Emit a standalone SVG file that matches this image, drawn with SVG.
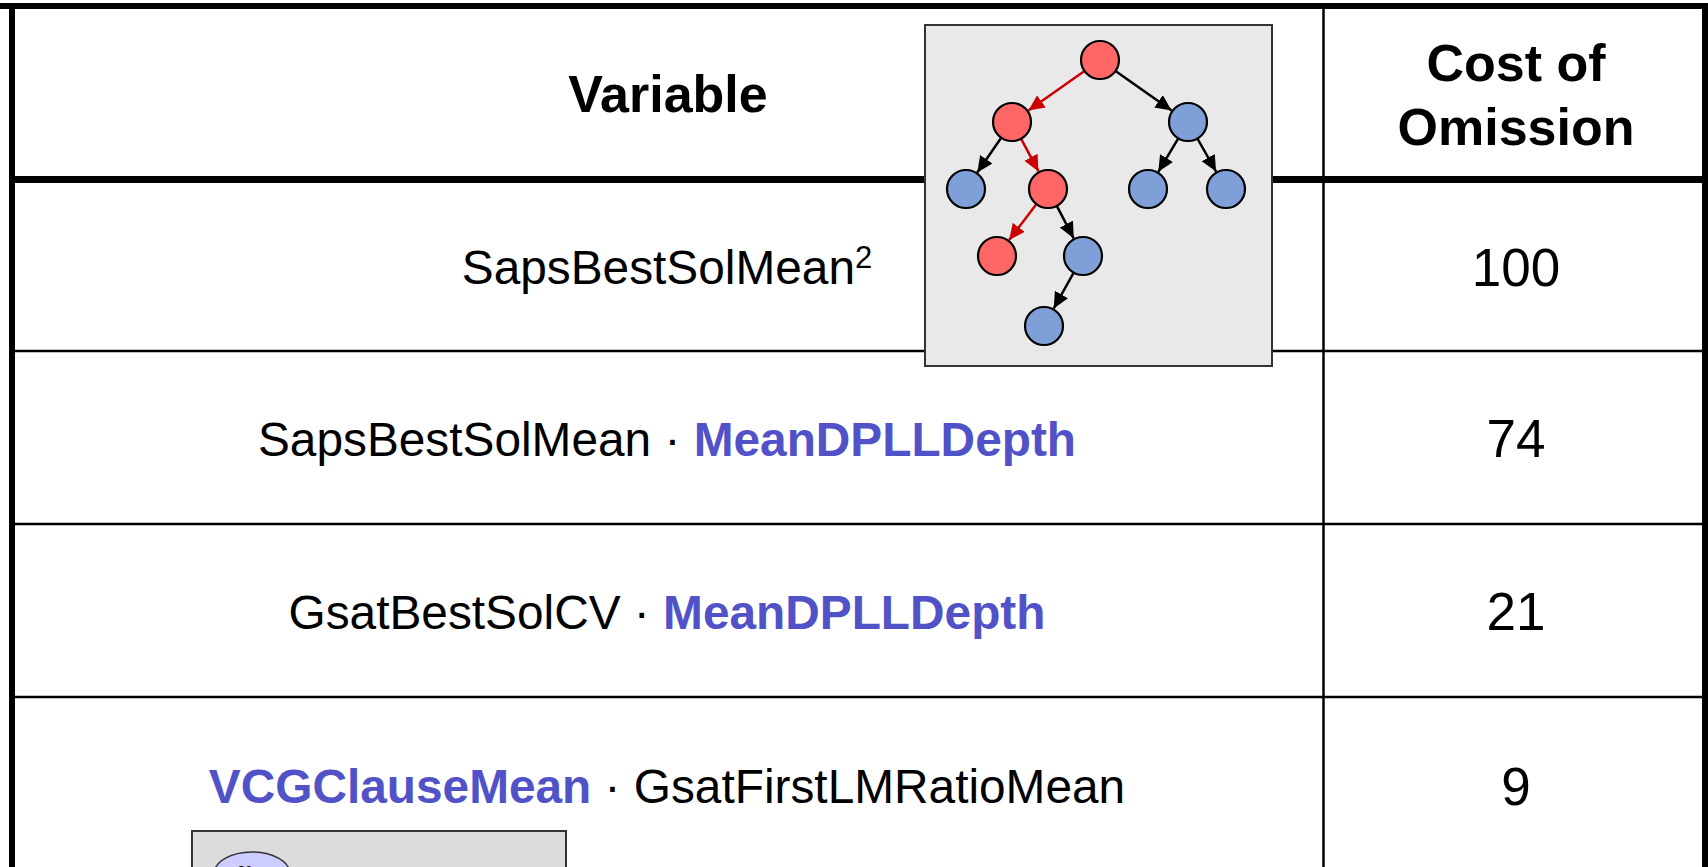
<svg xmlns="http://www.w3.org/2000/svg" width="1708" height="867" viewBox="0 0 1708 867">
<style>
.t{font-family:"Liberation Sans",Arial,sans-serif;fill:#000}
.row{font-size:47.8px;text-anchor:middle}
.num{font-size:53px;text-anchor:middle}
.hdr{font-size:52px;font-weight:bold;text-anchor:middle}
.blue{fill:#5252c8;font-weight:bold}
.grid{stroke:#000;fill:none}
.red{fill:#ff6666;stroke:#000;stroke-width:2.2}
.blu{fill:#7f9fd8;stroke:#000;stroke-width:2.2}
.eb{stroke:#000;stroke-width:2.5;fill:none;marker-end:url(#ab)}
.er{stroke:#cc0000;stroke-width:2.5;fill:none;marker-end:url(#ar)}
</style>
<defs>
<marker id="ab" markerUnits="userSpaceOnUse" markerWidth="20" markerHeight="18" refX="16" refY="7.5" orient="auto"><path d="M0,0 L16,7.5 L0,15 z" fill="#000"/></marker>
<marker id="ar" markerUnits="userSpaceOnUse" markerWidth="20" markerHeight="18" refX="16" refY="7.5" orient="auto"><path d="M0,0 L16,7.5 L0,15 z" fill="#cc0000"/></marker>
</defs>
<rect width="1708" height="867" fill="#fff"/>
<g id="table">
<line class="grid" x1="0" y1="6" x2="1708" y2="6" stroke-width="6"/>
<line class="grid" x1="12" y1="3" x2="12" y2="867" stroke-width="6"/>
<line class="grid" x1="1705" y1="3" x2="1705" y2="867" stroke-width="6"/>
<line class="grid" x1="1323.5" y1="9" x2="1323.5" y2="867" stroke-width="2.5"/>
<line class="grid" x1="15" y1="179.5" x2="1702" y2="179.5" stroke-width="7"/>
<line class="grid" x1="15" y1="351" x2="1702" y2="351" stroke-width="2.5"/>
<line class="grid" x1="15" y1="524" x2="1702" y2="524" stroke-width="2.5"/>
<line class="grid" x1="15" y1="697" x2="1702" y2="697" stroke-width="2.5"/>
</g>
<g id="header">
<text class="t hdr" x="668" y="112">Variable</text>
<text class="t hdr" x="1516" y="81">Cost of</text>
<text class="t hdr" x="1516" y="145">Omission</text>
</g>
<g id="row1">
<text class="t row" x="667" y="284">SapsBestSolMean<tspan font-size="31" dy="-16">2</tspan></text>
<text class="t num" x="1516" y="286">100</text>
</g>
<g id="row2">
<text class="t row" x="667" y="456">SapsBestSolMean · <tspan class="blue">MeanDPLLDepth</tspan></text>
<text class="t num" x="1516" y="457">74</text>
</g>
<g id="row3">
<text class="t row" x="667" y="629">GsatBestSolCV · <tspan class="blue">MeanDPLLDepth</tspan></text>
<text class="t num" x="1516" y="630">21</text>
</g>
<g id="row4">
<text class="t row" x="667" y="803"><tspan class="blue">VCGClauseMean</tspan> · GsatFirstLMRatioMean</text>
<text class="t num" x="1516" y="805">9</text>
</g>
<g id="tree-box">
<rect x="925" y="25" width="347" height="341" fill="#e9e9e9" stroke="#333" stroke-width="2"/>
</g>
<g id="connectors">
<line class="er" x1="1084.5" y1="70.9" x2="1028.4" y2="110.5"/>
<line class="eb" x1="1115.5" y1="70.9" x2="1171.6" y2="110.5"/>
<line class="eb" x1="1001.2" y1="137.7" x2="977.3" y2="172.5"/>
<line class="er" x1="1021" y1="138.7" x2="1038.5" y2="171.4"/>
<line class="eb" x1="1178.3" y1="138.3" x2="1158.3" y2="171.8"/>
<line class="eb" x1="1197.4" y1="138.5" x2="1216.1" y2="171.6"/>
<line class="er" x1="1036.5" y1="204.1" x2="1009.1" y2="240.1"/>
<line class="eb" x1="1056.8" y1="205.8" x2="1073.7" y2="238.3"/>
<line class="eb" x1="1073.7" y1="272.6" x2="1053.7" y2="308.5"/>
</g>
<g id="n-root"><circle class="red" cx="1100" cy="60" r="19"/></g>
<g id="n-l"><circle class="red" cx="1012" cy="122" r="19"/></g>
<g id="n-r"><circle class="blu" cx="1188" cy="122" r="19"/></g>
<g id="n-ll"><circle class="blu" cx="966" cy="189" r="19"/></g>
<g id="n-lr"><circle class="red" cx="1048" cy="189" r="19"/></g>
<g id="n-rl"><circle class="blu" cx="1148" cy="189" r="19"/></g>
<g id="n-rr"><circle class="blu" cx="1226" cy="189" r="19"/></g>
<g id="n-lrl"><circle class="red" cx="997" cy="256" r="19"/></g>
<g id="n-lrr"><circle class="blu" cx="1083" cy="256" r="19"/></g>
<g id="n-lrrl"><circle class="blu" cx="1044" cy="326" r="19"/></g>
<g id="bottom-box">
<rect x="192" y="831" width="374" height="60" fill="#dcdcdc" stroke="#333" stroke-width="2"/>
<ellipse cx="252" cy="874" rx="38" ry="22" fill="#ccccff" stroke="#333" stroke-width="1.5"/>
<text x="245" y="877" font-family="'Liberation Serif',serif" font-size="17" text-anchor="middle">U</text>
</g>
</svg>
